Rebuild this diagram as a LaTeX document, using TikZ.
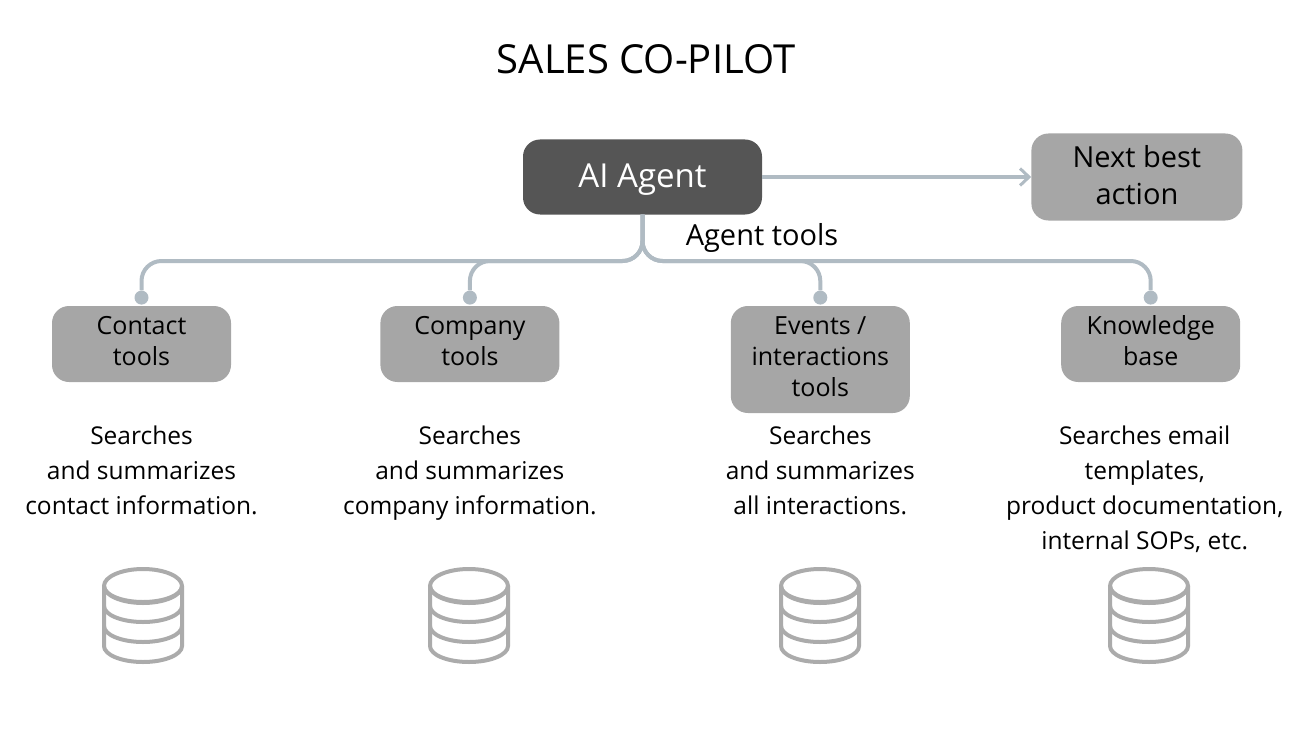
\documentclass[tikz,border=0pt]{standalone}
\usepackage{fontspec}
\setmainfont{Open Sans}
\definecolor{boxgray}{HTML}{A6A6A6}
\definecolor{darkbox}{HTML}{555555}
\definecolor{wire}{HTML}{B0BBC3}
\definecolor{dbgray}{HTML}{ABABAB}
\usetikzlibrary{positioning, arrows.meta}

\begin{document}
\begin{tikzpicture}[
  x=1pt, y=-1pt,
  node distance=43pt,
  tool/.style={fill=boxgray, rounded corners=17pt, minimum width=179pt, minimum height=76pt,
               align=center, inner sep=0pt, text depth=6pt, font=\fontsize{25}{31}\selectfont},
  agentbox/.style={fill=darkbox, text=white, rounded corners=17pt, minimum width=239pt,
                   minimum height=75pt, text depth=2pt, font=\fontsize{33}{34}\selectfont},
  nextbox/.style={tool, minimum width=211pt, minimum height=87pt, text depth=5pt, font=\fontsize{29}{37}\selectfont},
  desc/.style={align=center, inner sep=0pt, font=\fontsize{24.5}{35}\selectfont},
  link/.style={line width=4pt, draw=wire, rounded corners=20pt},
  arrow/.style={-{Straight Barb[length=9pt, width=17pt, line width=3pt]}, line width=4pt, draw=wire},
  dot/.style={circle, fill=wire, minimum size=14pt, inner sep=0pt},
  dbicon/.pic={
    \draw[line width=4pt, dbgray] (0,-30) ellipse [x radius=39, y radius=17];
    \draw[line width=4pt, dbgray] (-39,-30) -- (-39,30) arc [start angle=180, end angle=0, x radius=39, y radius=16] -- (39,-30);
    \foreach \ypos in {-30,-10,10}
      \draw[line width=4pt, dbgray] (-39,\ypos) arc [start angle=180, end angle=0, x radius=39, y radius=16];
  }
]
\useasboundingbox (0,0) rectangle (1292,738);

\node[font=\fontsize{40}{46}\selectfont] (title) at (646,59) {SALES CO-PILOT};

\node[agentbox] (agent) at (642.5,177) {AI Agent};
\node[nextbox, right=269pt of agent] (next) {Next best\\action};
\node[font=\fontsize{29}{34}\selectfont, inner sep=0pt] (toolslabel) at (762,238) {Agent tools};

% tool boxes hang from the same top edge
\node[tool] (contact) at (141.5,344) {Contact\\tools};
\node[tool, right=149pt of contact] (company) {Company\\tools};
\node[tool, minimum height=107pt, right=171pt of company.north east, anchor=north west] (events) {Events /\\interactions\\tools};
\node[tool, right=151pt of events.north east, anchor=north west] (knowledge) {Knowledge\\base};

\node[dot, above=1pt of contact] (dot1) {};
\node[dot, above=1pt of company] (dot2) {};
\node[dot, above=1pt of events] (dot3) {};
\node[dot, above=1pt of knowledge] (dot4) {};

\node[desc, below=of contact] (desc1) {Searches\\and summarizes\\contact information.};
\node[desc, below=of company] (desc2) {Searches\\and summarizes\\company information.};
\node[desc, below=12pt of events] (desc3) {Searches\\and summarizes\\all interactions.};
\node[desc, below=of knowledge, xshift=-6pt] (desc4) {Searches email\\templates,\\product documentation,\\internal SOPs, etc.};

\coordinate (bus) at (0,261);

\draw[arrow] (agent) -- (next);
\draw[link] (agent.south) -- (agent.south |- bus) -| (dot1);
\draw[link] (agent.south) -- (agent.south |- bus) -| (dot2);
\draw[link] (agent.south) -- (agent.south |- bus) -| (dot3);
\draw[link] (agent.south) -- (agent.south |- bus) -| (dot4);

\pic at (143,616) {dbicon};
\pic at (469,616) {dbicon};
\pic at (820,616) {dbicon};
\pic at (1149,616) {dbicon};
\end{tikzpicture}
\end{document}
